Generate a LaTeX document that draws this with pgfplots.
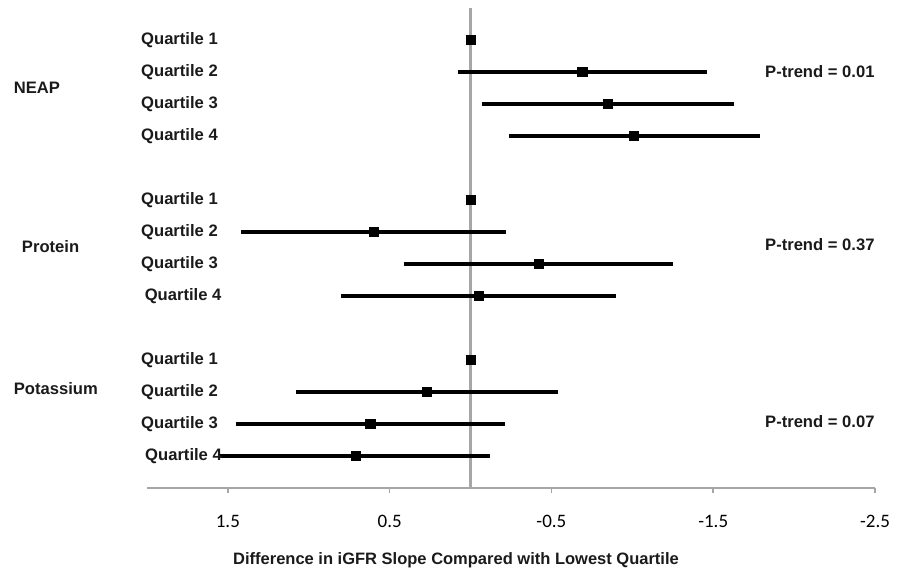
\documentclass[border=0pt]{standalone}
\usepackage{fontspec}
\setmainfont{Liberation Sans}
\newfontfamily\carlito{Carlito}
\usepackage{pgfplots}
\usepackage{pgfplotstable}
\pgfplotsset{compat=1.18}
\definecolor{refgray}{HTML}{A6A6A6}
\definecolor{txt}{HTML}{1A1A1A}

% k = row (0 = top), est = estimate, left = upper CI bound (larger value), right = lower CI bound
\pgfplotstableread{
k  est    left   right
0   0.00  0.00   0.00
1  -0.69  0.08  -1.46
2  -0.85 -0.07  -1.63
3  -1.01 -0.24  -1.79
5   0.00  0.00   0.00
6   0.60  1.42  -0.22
7  -0.42  0.41  -1.25
8  -0.05  0.80  -0.90
10  0.00  0.00   0.00
11  0.27  1.08  -0.54
12  0.62  1.45  -0.21
13  0.71  1.56  -0.12
}\forestdata

\begin{document}
\begin{tikzpicture}
\path[use as bounding box] (0pt,0pt) rectangle (898pt,576pt);
\begin{axis}[
  at={(147pt,88pt)}, anchor=south west,
  scale only axis, width=728pt, height=480pt,
  xmin=-2.5, xmax=2, x dir=reverse,
  ymin=-1, ymax=14, y dir=reverse,
  axis x line=bottom, axis y line=none,
  x axis line style={-, refgray, line width=2pt},
  xtick={1.5,0.5,-0.5,-1.5,-2.5},
  xticklabels={1.5,0.5,-0.5,-1.5,-2.5},
  tick align=outside,
  major tick length=5pt,
  tick style={refgray, line width=1.5pt},
  xticklabel style={font=\carlito\fontsize{19}{19}\selectfont, text=black, yshift=-19pt},
  clip=false,
]
% reference line at zero
\addplot[refgray, line width=2.5pt] coordinates {(0,-1) (0,14)};

% confidence intervals and estimates
\addplot[
  black, only marks, mark=square*, mark size=4.6pt,
  error bars/.cd, x dir=both, x explicit, error mark=none,
  error bar style={line width=3.2pt, black},
] table[
  x=est, y=k,
  x error plus expr=\thisrow{left}-\thisrow{est},
  x error minus expr=\thisrow{est}-\thisrow{right},
] {\forestdata};

% row labels
\begin{scope}[every node/.style={anchor=west, font=\bfseries\fontsize{16.6}{16.6}\selectfont, text=txt, inner sep=0pt}]
\node at (axis cs:2.037,0) {Quartile 1};
\node at (axis cs:2.037,1) {Quartile 2};
\node at (axis cs:2.037,2) {Quartile 3};
\node at (axis cs:2.037,3) {Quartile 4};
\node at (axis cs:2.037,5) {Quartile 1};
\node at (axis cs:2.037,6) {Quartile 2};
\node at (axis cs:2.037,7) {Quartile 3};
\node at (axis cs:2.015,8) {Quartile 4};
\node at (axis cs:2.037,10) {Quartile 1};
\node at (axis cs:2.037,11) {Quartile 2};
\node at (axis cs:2.037,12) {Quartile 3};
\node at (axis cs:2.012,13) {Quartile 4};
\node at (axis cs:2.824,1.5) {NEAP};
\node at (axis cs:2.774,6.45) {Protein};
\node at (axis cs:2.824,10.9) {Potassium};
\node at (axis cs:-1.820,1) {P-trend = 0.01};
\node at (axis cs:-1.820,6.4) {P-trend = 0.37};
\node at (axis cs:-1.820,11.93) {P-trend = 0.07};
\end{scope}
\end{axis}
\node[font=\bfseries\fontsize{16.5}{16.5}\selectfont, text=txt] at (456pt,16pt) {Difference in iGFR Slope Compared with Lowest Quartile};
\end{tikzpicture}
\end{document}
